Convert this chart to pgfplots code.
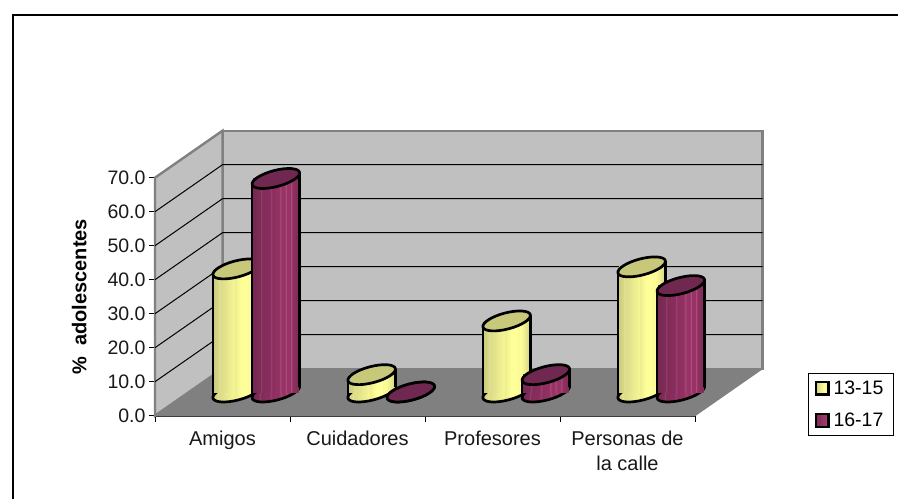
\documentclass[border=0pt]{standalone}
\usepackage{fontspec}
\setmainfont{Liberation Sans}
\usepackage{pgfplots}
\usepackage{pgfplotstable}
\pgfplotsset{compat=1.18}
\definecolor{wall}{HTML}{C0C0C0}
\definecolor{floorc}{HTML}{808080}
\definecolor{yel}{HTML}{FFFF99}
\definecolor{pur}{HTML}{993366}
\definecolor{yeltop}{HTML}{C8C87A}
\definecolor{purtop}{HTML}{702850}
\pgfdeclarehorizontalshading{cylY}{100bp}{
 rgb(0bp)=(.80,.80,.50); rgb(25bp)=(.80,.80,.50); rgb(30bp)=(.85,.85,.53); rgb(31bp)=(.89,.89,.58); rgb(32bp)=(.86,.86,.54);
 rgb(40bp)=(.91,.91,.56); rgb(47bp)=(.96,.96,.58); rgb(48bp)=(.93,.93,.56); rgb(55bp)=(1,1,.6); rgb(62bp)=(1,1,.6); rgb(63bp)=(.96,.96,.58); rgb(64bp)=(1,1,.6);
 rgb(68bp)=(.96,.96,.58); rgb(75bp)=(.84,.84,.52); rgb(100bp)=(.84,.84,.52)}
\pgfdeclarehorizontalshading{cylP}{100bp}{
 rgb(0bp)=(.46,.16,.32); rgb(25bp)=(.46,.16,.32); rgb(33bp)=(.50,.17,.34); rgb(34bp)=(.58,.28,.43); rgb(35bp)=(.51,.17,.35);
 rgb(44bp)=(.54,.18,.37); rgb(45bp)=(.60,.28,.45); rgb(46bp)=(.55,.18,.37); rgb(54bp)=(.58,.2,.39); rgb(55bp)=(.66,.32,.5); rgb(56bp)=(.60,.2,.4);
 rgb(60bp)=(.6,.2,.4); rgb(61bp)=(.68,.34,.52); rgb(62bp)=(.6,.2,.4); rgb(66bp)=(.6,.2,.4); rgb(67bp)=(.68,.34,.52); rgb(68bp)=(.57,.19,.38); rgb(75bp)=(.50,.17,.34); rgb(100bp)=(.50,.17,.34)}
\pgfdeclareplotmark{cyltop}{\pgfpathellipse{\pgfpointorigin}{\pgfqpoint{23.7pt}{6.2pt}}{\pgfqpoint{-2.05pt}{7.83pt}}\pgfusepathqfillstroke}
\pgfdeclareplotmark{cylbotY}{\pgfscope\pgfpathellipse{\pgfpointorigin}{\pgfqpoint{23.7pt}{6.2pt}}{\pgfqpoint{-2.05pt}{7.83pt}}\pgfshadepath{cylY}{0}\pgfusepath{discard}\endpgfscope\pgfpathellipse{\pgfpointorigin}{\pgfqpoint{23.7pt}{6.2pt}}{\pgfqpoint{-2.05pt}{7.83pt}}\pgfusepathqstroke}
\pgfdeclareplotmark{cylbotP}{\pgfscope\pgfpathellipse{\pgfpointorigin}{\pgfqpoint{23.7pt}{6.2pt}}{\pgfqpoint{-2.05pt}{7.83pt}}\pgfshadepath{cylP}{0}\pgfusepath{discard}\endpgfscope\pgfpathellipse{\pgfpointorigin}{\pgfqpoint{23.7pt}{6.2pt}}{\pgfqpoint{-2.05pt}{7.83pt}}\pgfusepathqstroke}
\pgfplotstableread{
x v
0.605 36.2
1.605 5.1
2.605 20.9
3.605 36.8
}\younger
\pgfplotstableread{
x v
0.895 62.8
1.895 0.0
2.895 5.1
3.895 31.3
}\older
\pgfplotsset{cylbar/.style={ybar, bar width=45.4pt, bar shift=0pt, draw=none, shade, shading=#1},
 cylside/.style={forget plot, draw=none, mark=none, error bars/.cd, y dir=minus, y explicit, error mark=none, error bar style={black, line width=2.7pt, line cap=round}}}
\newcommand{\cyl}[5]{% table, bottom mark, shading, top colour, legend colour
 \addplot[only marks, forget plot, mark=#2, mark options={solid, draw=black, line width=2.7pt}] table[x=x, y expr=0] {#1};
 \addplot[cylbar=#3, restrict x to domain=0:1, area legend,
   legend image code/.code={\draw[black, line width=2.2pt, fill=#5] (0pt,-6.3pt) rectangle (12.6pt,6.3pt);}] table[x=x, y=v] {#1};
 \addplot[cylbar=#3, forget plot, restrict x to domain=1:2] table[x=x, y=v] {#1};
 \addplot[cylbar=#3, forget plot, restrict x to domain=2:3] table[x=x, y=v] {#1};
 \addplot[cylbar=#3, forget plot, restrict x to domain=3:4] table[x=x, y=v] {#1};
 \addplot[cylside] table[x expr=\thisrow{x}-0.1755, y expr=\thisrow{v}-1.6, y error expr=\thisrow{v}] {#1};
 \addplot[cylside] table[x expr=\thisrow{x}+0.1755, y expr=\thisrow{v}+1.6, y error expr=\thisrow{v}] {#1};
 \addplot[only marks, forget plot, mark=cyltop, mark options={solid, draw=black, fill=#4, line width=2.7pt}] table[x=x, y=v] {#1};
}
\begin{document}
\begin{tikzpicture}[x=1pt,y=1pt]
\path[use as bounding box] (0,0) rectangle (898,499);
\fill[white] (0,0) rectangle (898,499);
\draw[black, line width=2pt] (12.5,0) -- (12.5,484) -- (898,484);
\begin{axis}[
 at={(155pt,83.3pt)}, anchor=south west, scale only axis, width=540pt, height=238pt,
 xmin=0, xmax=4, ymin=-6.97, ymax=63.03, clip=false, clip mode=individual,
 axis x line*=bottom, axis y line*=left,
 axis line style={draw=black!80, line width=1.6pt, -},
 tick align=outside,
 ytick={-6.97,3.03,13.03,23.03,33.03,43.03,53.03,63.03},
 yticklabels={0.0,10.0,20.0,30.0,40.0,50.0,60.0,70.0},
 xtick={0.5,1.5,2.5,3.5},
 xticklabels={Amigos,Cuidadores,Profesores,{Personas de\\la calle}},
 minor xtick={0,1,2,3,4},
 major x tick style={draw=none},
 minor x tick style={draw=black, line width=1pt},
 minor tick length=6pt,
 major y tick style={draw=black, line width=1pt},
 major tick length=6pt,
 tick label style={text=black!90},
 yticklabel style={font=\fontsize{19.5}{25}\selectfont, xshift=0pt},
 xticklabel style={font=\fontsize{20}{25}\selectfont, align=center, yshift=-6pt},
 ylabel={\%~~adolescentes},
 ylabel style={font=\fontsize{20}{24}\selectfont\bfseries, at={(axis description cs:0,0.5)}, anchor=south, xshift=0pt, yshift=65pt},
 legend style={at={(axis cs:4.835,5.68)}, anchor=north west, draw=black, line width=1pt,
   font=\fontsize{19.5}{23}\selectfont, inner xsep=6.5pt, inner ysep=5.5pt, row sep=13pt, legend cell align=left,
   /tikz/every even column/.append style={column sep=0pt}, nodes={inner xsep=4pt}},
]
% walls and floor
\addplot[forget plot, fill=wall, draw=floorc, line width=2.4pt] coordinates {(0.5,6.85)(4.5,6.85)(4.5,76.85)(0.5,76.85)} -- cycle;
\addplot[forget plot, fill=wall, draw=floorc, line width=2.4pt] coordinates {(0,-6.97)(0.5,6.85)(0.5,76.85)(0,63.03)} -- cycle;
\addplot[forget plot, fill=floorc, draw=floorc, line width=1pt] coordinates {(0,-6.97)(4,-6.97)(4.5,6.85)(0.5,6.85)} -- cycle;
% gridlines
\addplot[forget plot, black, line width=1pt] coordinates {(0,3.03)(0.5,16.85)(4.5,16.85)};
\addplot[forget plot, black, line width=1pt] coordinates {(0,13.03)(0.5,26.85)(4.5,26.85)};
\addplot[forget plot, black, line width=1pt] coordinates {(0,23.03)(0.5,36.85)(4.5,36.85)};
\addplot[forget plot, black, line width=1pt] coordinates {(0,33.03)(0.5,46.85)(4.5,46.85)};
\addplot[forget plot, black, line width=1pt] coordinates {(0,43.03)(0.5,56.85)(4.5,56.85)};
\addplot[forget plot, black, line width=1pt] coordinates {(0,53.03)(0.5,66.85)(4.5,66.85)};
\cyl{\younger}{cylbotY}{cylY}{yeltop}{yel}
\cyl{\older}{cylbotP}{cylP}{purtop}{pur}
\legend{13-15,16-17}
\end{axis}
\end{tikzpicture}
\end{document}
